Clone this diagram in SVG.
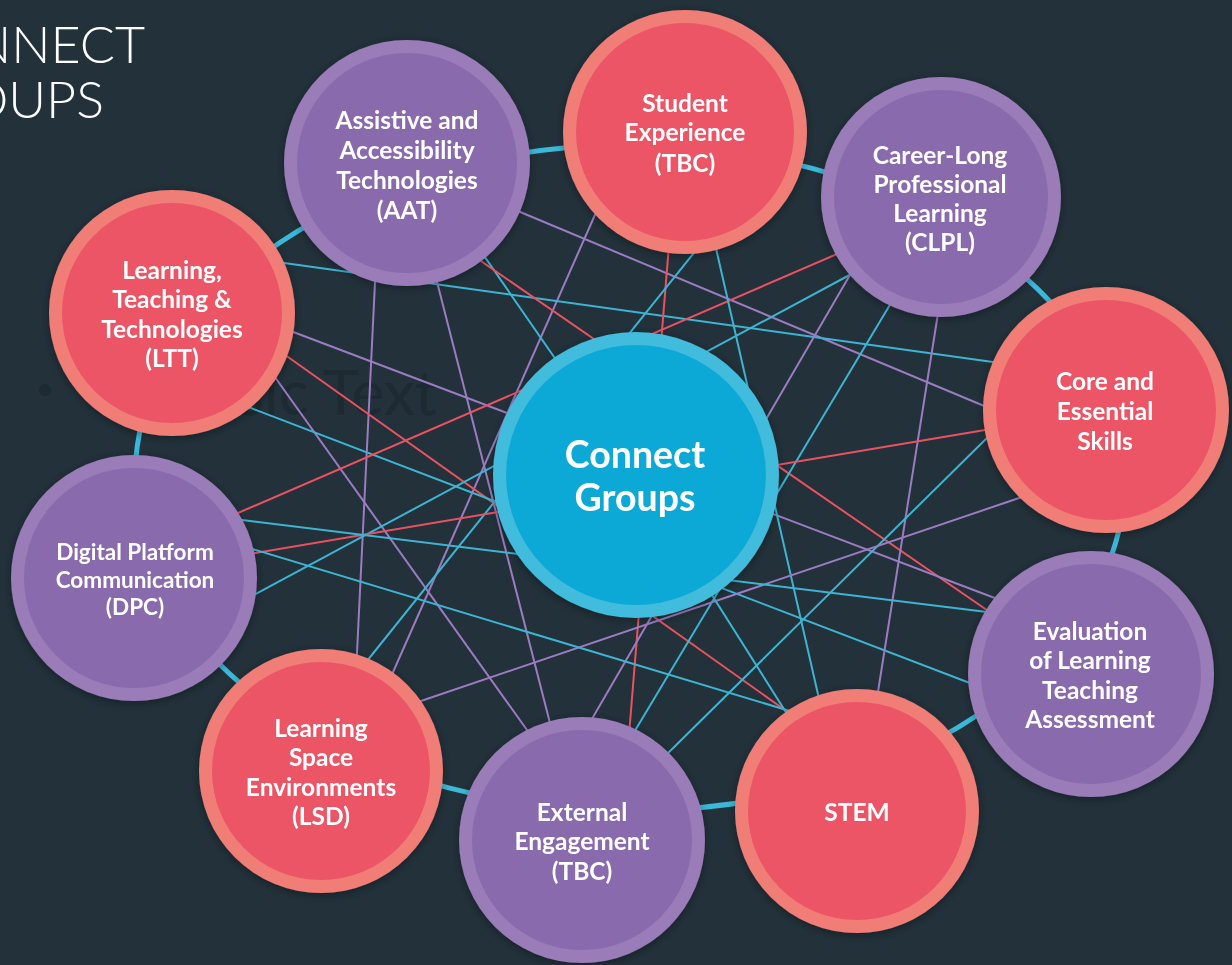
<svg xmlns="http://www.w3.org/2000/svg" width="1232" height="965" viewBox="0 0 1232 965">
<defs>
<style>
.bg{fill:#22313a}
.title{font-family:Lato,"Liberation Sans",sans-serif;font-weight:300;font-size:52px;fill:#ffffff}
.ghost{font-family:Lato,"Liberation Sans",sans-serif;font-size:62px;fill:#1d2a32}
.lbl{font-family:Lato,"Liberation Sans",sans-serif;font-weight:700;font-size:24.5px;fill:#ffffff;text-anchor:middle}
.lbl-s{font-size:22.5px}
.lbl-c{font-size:37.5px}
.ring{fill:none;stroke:#3bb9d8;stroke-width:5}
.c{stroke:#3db5d2;stroke-width:2;fill:none}
.r{stroke:#ea5262;stroke-width:2;fill:none}
.p{stroke:#9b7cc0;stroke-width:2;fill:none}
.red-o{fill:#f07e77}
.red-i{fill:#ec5565}
.pur-o{fill:#9a7bb9}
.pur-i{fill:#896aad}
.cen-o{fill:#43bcdd}
.cen-i{fill:#10a9d6}
</style>
<filter id="sh" x="-20%" y="-20%" width="140%" height="140%">
<feDropShadow dx="0" dy="2" stdDeviation="4" flood-color="#000000" flood-opacity="0.35"/>
</filter>
</defs>
<rect class="bg" x="0" y="0" width="1232" height="965"/>
<g id="background-text">
<text class="title" x="145" y="63" text-anchor="end">NNECT</text>
<text class="title" x="104" y="118" text-anchor="end">OUPS</text>
<circle cx="45" cy="390" r="6" fill="#1d2a32"/>
<text class="ghost" x="437" y="415" text-anchor="end">Basic Text</text>
</g>
<g id="connectors">
<ellipse class="ring" cx="630" cy="478" rx="495" ry="333"/>
<line class="p" x1="513" y1="209" x2="989" y2="408"/>
<line class="p" x1="598" y1="208" x2="390" y2="679"/>
<line class="c" x1="277" y1="262" x2="1000" y2="363"/>
<line class="c" x1="480" y1="250" x2="570" y2="380"/>
<line class="r" x1="475" y1="257" x2="994" y2="615"/>
<line class="p" x1="375.4" y1="274" x2="356.6" y2="661"/>
<line class="p" x1="435" y1="274" x2="552" y2="731"/>
<line class="p" x1="288" y1="330" x2="1000" y2="600"/>
<line class="r" x1="281" y1="352" x2="792" y2="715"/>
<line class="p" x1="272" y1="373" x2="532" y2="737"/>
<line class="c" x1="243" y1="405" x2="975" y2="685"/>
<line class="r" x1="231" y1="516" x2="844" y2="251"/>
<line class="c" x1="250" y1="597" x2="857" y2="271"/>
<line class="r" x1="669" y1="245" x2="629" y2="735"/>
<line class="c" x1="697" y1="249" x2="363" y2="666"/>
<line class="c" x1="715" y1="244" x2="820" y2="703"/>
<line class="p" x1="854" y1="268" x2="589" y2="724"/>
<line class="c" x1="894" y1="298" x2="633" y2="734"/>
<line class="p" x1="939" y1="307" x2="877" y2="698"/>
<line class="r" x1="249" y1="554" x2="991" y2="429"/>
<line class="c" x1="993" y1="432" x2="662" y2="759"/>
<line class="p" x1="1028" y1="495" x2="415" y2="703"/>
<line class="c" x1="234" y1="519" x2="995" y2="613"/>
<line class="c" x1="249" y1="548" x2="793" y2="712"/>
<line class="c" x1="636" y1="475" x2="789" y2="717"/>
</g>
<g id="node-student" filter="url(#sh)">
<circle class="red-o" cx="685" cy="132" r="122"/>
<circle class="red-i" cx="685" cy="132" r="109"/>
<text class="lbl" x="685" y="112">Student</text>
<text class="lbl" x="685" y="141">Experience</text>
<text class="lbl" x="685" y="172">(TBC)</text>
</g>
<g id="node-aat" filter="url(#sh)">
<circle class="pur-o" cx="407" cy="163" r="123"/>
<circle class="pur-i" cx="407" cy="163" r="110"/>
<text class="lbl" x="407" y="129">Assistive and</text>
<text class="lbl" x="407" y="159">Accessibility</text>
<text class="lbl" x="407" y="189">Technologies</text>
<text class="lbl" x="407" y="219">(AAT)</text>
</g>
<g id="node-clpl" filter="url(#sh)">
<circle class="pur-o" cx="941" cy="197" r="120"/>
<circle class="pur-i" cx="941" cy="197" r="107"/>
<text class="lbl" x="940" y="164">Career-Long</text>
<text class="lbl" x="940" y="193">Professional</text>
<text class="lbl" x="940" y="222">Learning</text>
<text class="lbl" x="940" y="251">(CLPL)</text>
</g>
<g id="node-ltt" filter="url(#sh)">
<circle class="red-o" cx="172" cy="313" r="123"/>
<circle class="red-i" cx="172" cy="313" r="110"/>
<text class="lbl" x="172" y="279">Learning,</text>
<text class="lbl" x="172" y="308">Teaching &amp;</text>
<text class="lbl" x="172" y="338">Technologies</text>
<text class="lbl" x="172" y="367">(LTT)</text>
</g>
<g id="node-core" filter="url(#sh)">
<circle class="red-o" cx="1106" cy="410" r="123"/>
<circle class="red-i" cx="1106" cy="410" r="110"/>
<text class="lbl" x="1105" y="390">Core and</text>
<text class="lbl" x="1105" y="420">Essential</text>
<text class="lbl" x="1105" y="450">Skills</text>
</g>
<g id="node-dpc" filter="url(#sh)">
<circle class="pur-o" cx="134" cy="578" r="123"/>
<circle class="pur-i" cx="134" cy="578" r="110"/>
<text class="lbl lbl-s" x="135" y="560">Digital Platform</text>
<text class="lbl lbl-s" x="135" y="588">Communication</text>
<text class="lbl lbl-s" x="135" y="615">(DPC)</text>
</g>
<g id="node-eval" filter="url(#sh)">
<circle class="pur-o" cx="1091" cy="674" r="123"/>
<circle class="pur-i" cx="1091" cy="674" r="110"/>
<text class="lbl" x="1090" y="640">Evaluation</text>
<text class="lbl" x="1090" y="669">of Learning</text>
<text class="lbl" x="1090" y="699">Teaching</text>
<text class="lbl" x="1090" y="728">Assessment</text>
</g>
<g id="node-lsd" filter="url(#sh)">
<circle class="red-o" cx="321" cy="771" r="122"/>
<circle class="red-i" cx="321" cy="771" r="109"/>
<text class="lbl" x="321" y="737">Learning</text>
<text class="lbl" x="321" y="766">Space</text>
<text class="lbl" x="321" y="796">Environments</text>
<text class="lbl" x="321" y="825">(LSD)</text>
</g>
<g id="node-ext" filter="url(#sh)">
<circle class="pur-o" cx="582" cy="840" r="123"/>
<circle class="pur-i" cx="582" cy="840" r="110"/>
<text class="lbl" x="582" y="821">External</text>
<text class="lbl" x="582" y="850">Engagement</text>
<text class="lbl" x="582" y="880">(TBC)</text>
</g>
<g id="node-stem" filter="url(#sh)">
<circle class="red-o" cx="857" cy="811" r="122"/>
<circle class="red-i" cx="857" cy="811" r="109"/>
<text class="lbl" x="857" y="821">STEM</text>
</g>
<g id="node-connect" filter="url(#sh)">
<circle class="cen-o" cx="636" cy="475" r="143"/>
<circle class="cen-i" cx="636" cy="475" r="130"/>
<text class="lbl lbl-c" x="635" y="468">Connect</text>
<text class="lbl lbl-c" x="635" y="511">Groups</text>
</g>
</svg>
